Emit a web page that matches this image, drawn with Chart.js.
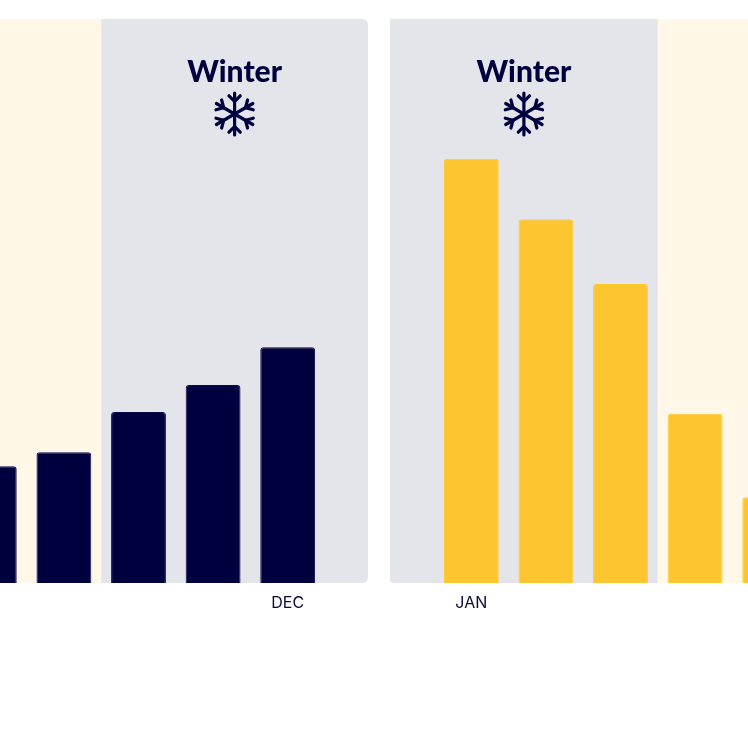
<!DOCTYPE html>
<html>
<head>
<meta charset="utf-8">
<script src="https://cdn.jsdelivr.net/npm/chart.js@4"></script>
<style>
  html, body { margin: 0; padding: 0; background: #ffffff; }
  body { width: 748px; height: 748px; overflow: hidden; position: relative; }
  .panel { position: absolute; top: 0; height: 748px; }
  #leftPanel { left: -48px; width: 416px; }
  #rightPanel { left: 390px; width: 417px; }
</style>
</head>
<body>
<div id="leftPanel" class="panel"><canvas id="leftChart"></canvas></div>
<div id="rightPanel" class="panel"><canvas id="rightChart"></canvas></div>

<script>
// Datos del gráfico izquierdo (final del año)
const leftMonths = ["AUG", "SEP", "OCT", "NOV", "DEC"];
const leftValues = [20.7, 23.2, 30.3, 35.1, 41.8];
const leftShownTicks = ["DEC"];

// Datos del gráfico derecho (inicio del año)
const rightMonths = ["JAN", "FEB", "MAR", "APR", "MAY"];
const rightValues = [75.2, 64.5, 53.0, 30.0, 15.2];
const rightShownTicks = ["JAN"];

const seasonLabel = "Winter";

const NAVY = "#00003f";
const YELLOW = "#fdc631";
const GREY_BG = "#e4e5eb";
const CREAM_BG = "#fff8e8";

// Dibuja el copo de nieve
function drawSnowflake(ctx, cx, cy, r) {
  ctx.save();
  ctx.strokeStyle = NAVY;
  ctx.lineWidth = 3.2;
  ctx.lineCap = "round";
  ctx.lineJoin = "round";
  for (let k = 0; k < 6; k++) {
    const a = -Math.PI / 2 + k * Math.PI / 3;
    const dx = Math.cos(a), dy = Math.sin(a);
    ctx.beginPath();
    ctx.moveTo(cx, cy);
    ctx.lineTo(cx + dx * r, cy + dy * r);
    ctx.stroke();
    // rama en V
    const bx = cx + dx * r * 0.6, by = cy + dy * r * 0.6;
    const bl = r * 0.38;
    [-1, 1].forEach((s) => {
      const b = a + s * Math.PI / 4;
      ctx.beginPath();
      ctx.moveTo(bx, by);
      ctx.lineTo(bx + Math.cos(b) * bl, by + Math.sin(b) * bl);
      ctx.stroke();
    });
  }
  ctx.restore();
}

// Plugin de fondos de estación
const seasonPlugin = {
  id: "seasons",
  beforeDatasetsDraw(chart, args, opts) {
    const { ctx, chartArea, scales } = chart;
    const x = scales.x;
    const n = chart.data.labels.length;
    const edge = (i) => {
      if (i <= 0) return 0;
      if (i >= n) return chart.width;
      return (x.getPixelForValue(i - 1) + x.getPixelForValue(i)) / 2;
    };
    const top = chartArea.top, bottom = chartArea.bottom;
    opts.regions.forEach((reg) => {
      const x0 = edge(reg.from), x1 = edge(reg.to);
      ctx.save();
      ctx.fillStyle = reg.color;
      ctx.beginPath();
      // radios: [arriba-izq, arriba-der, abajo-der, abajo-izq]
      ctx.roundRect(x0, top, x1 - x0, bottom - top, reg.radius || [0, 0, 0, 0]);
      ctx.fill();
      if (reg.title) {
        const cx = (x0 + x1) / 2;
        ctx.fillStyle = NAVY;
        ctx.font = "900 30px Lato";
        ctx.textAlign = "center";
        ctx.textBaseline = "alphabetic";
        ctx.fillText(reg.title, cx, 82);
        drawSnowflake(ctx, cx, 114, 21);
      }
      ctx.restore();
    });
  },
};

function makeChart(id, labels, values, shown, color, border, regions, padding) {
  const ctx = document.getElementById(id).getContext("2d");
  return new Chart(ctx, {
    type: "bar",
    data: {
      labels: labels,
      datasets: [
        {
          data: values,
          backgroundColor: color,
          borderColor: border,
          borderWidth: 1,
          borderSkipped: "bottom",
          borderRadius: { topLeft: 3, topRight: 3 },
          barPercentage: 0.735,
          categoryPercentage: 1,
        },
      ],
    },
    options: {
      responsive: true,
      maintainAspectRatio: false,
      animation: false,
      layout: { padding: padding },
      scales: {
        x: {
          grid: { display: false, drawTicks: false },
          border: { display: false },
          afterFit(scale) { scale.height = 165; },
          ticks: {
            padding: 11,
            color: "#0a0a3c",
            font: { family: "Inter", size: 16 },
            autoSkip: false,
            maxRotation: 0,
            callback(value) {
              const lab = this.getLabelForValue(value);
              return shown.includes(lab) ? lab : "";
            },
          },
        },
        y: { display: false, min: 0, max: 100 },
      },
      plugins: {
        legend: { display: false },
        tooltip: { enabled: false },
        seasons: { regions: regions },
      },
    },
    plugins: [seasonPlugin],
  });
}

makeChart(
  "leftChart", leftMonths, leftValues, leftShownTicks, NAVY, "#0a0a48",
  [
    { from: 0, to: 2, color: CREAM_BG },
    { from: 2, to: 5, color: GREY_BG, title: seasonLabel, radius: [0, 6, 6, 0] },
  ],
  { top: 19, right: 43, left: 0, bottom: 0 }
);

makeChart(
  "rightChart", rightMonths, rightValues, rightShownTicks, YELLOW, "#ffcb2a",
  [
    { from: 0, to: 3, color: GREY_BG, title: seasonLabel, radius: [0, 0, 0, 3] },
    { from: 3, to: 5, color: CREAM_BG },
  ],
  { top: 19, left: 44, right: 0, bottom: 0 }
);
</script>
</body>
</html>
